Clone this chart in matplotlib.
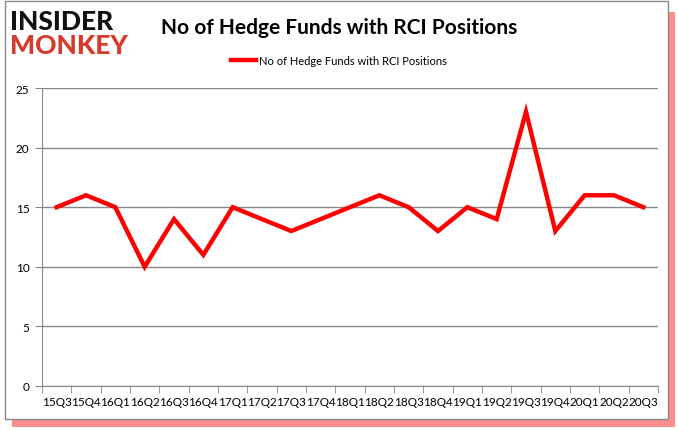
import matplotlib
matplotlib.use("Agg")
from matplotlib import pyplot as plt
from matplotlib.patches import Rectangle
import numpy as np

quarters = ["15Q3", "15Q4", "16Q1", "16Q2", "16Q3", "16Q4", "17Q1", "17Q2", "17Q3",
            "17Q4", "18Q1", "18Q2", "18Q3", "18Q4", "19Q1", "19Q2", "19Q3", "19Q4",
            "20Q1", "20Q2", "20Q3"]
funds = [15, 16, 15, 10, 14, 11, 15, 14, 13, 14, 15, 16, 15, 13, 15, 14, 23, 13, 16, 16, 15]
series_name = "No of Hedge Funds with RCI Positions"

plt.rcParams['font.family'] = ['Lato', 'DejaVu Sans']

fig = plt.figure(figsize=(6.78, 4.31), dpi=100)

# red shadow + grey frame around the whole chart
fig.patches.append(Rectangle((12/678, 3/431), 663/678, 415/431, transform=fig.transFigure,
                             facecolor='#ff3030', edgecolor='none', alpha=0.55, zorder=-3))
fig.patches.append(Rectangle((5/678, 11/431), 663/678, 418/431, transform=fig.transFigure,
                             facecolor='white', edgecolor='#888888', lw=1.0, zorder=-2))

ax = fig.add_axes([42/678, 44/431, 616/678, 298/431])
x = np.arange(len(quarters))
ax.plot(x, funds, color='#ff0000', linewidth=3.2, label=series_name, solid_joinstyle='miter')

ax.set_xlim(-0.5, len(quarters) - 0.5)
ax.set_ylim(0, 25)
ax.set_yticks(range(0, 26, 5))
ax.yaxis.grid(True, color='#888888', linewidth=1)
ax.set_axisbelow(True)
ax.set_xticks(x)
ax.set_xticklabels(quarters, fontsize=8.5)
ax.set_xticks(np.arange(-0.5, len(quarters), 1), minor=True)
ax.tick_params(axis='x', which='major', length=0, pad=7)
ax.tick_params(axis='x', which='minor', length=5, color='#888888')
ax.tick_params(axis='y', length=5, color='#888888', labelsize=8.5, pad=4)
for s in ['top', 'right']:
    ax.spines[s].set_visible(False)
for s in ['left', 'bottom']:
    ax.spines[s].set_color('#888888')

fig.text(0.5, 0.935, series_name, ha='center', va='center', fontsize=15, fontweight='bold')
fig.text(0.015, 0.95, "INSIDER", ha='left', va='center', fontsize=19, fontweight='black', color='#111111')
fig.text(0.015, 0.893, "MONKEY", ha='left', va='center', fontsize=19, fontweight='black', color='#d63a2a')

fig.legend(loc='center', bbox_to_anchor=(0.5, 0.857), frameon=False, fontsize=8,
           handlelength=2.2, handletextpad=0.3)

fig.savefig("out.png", dpi=100)
